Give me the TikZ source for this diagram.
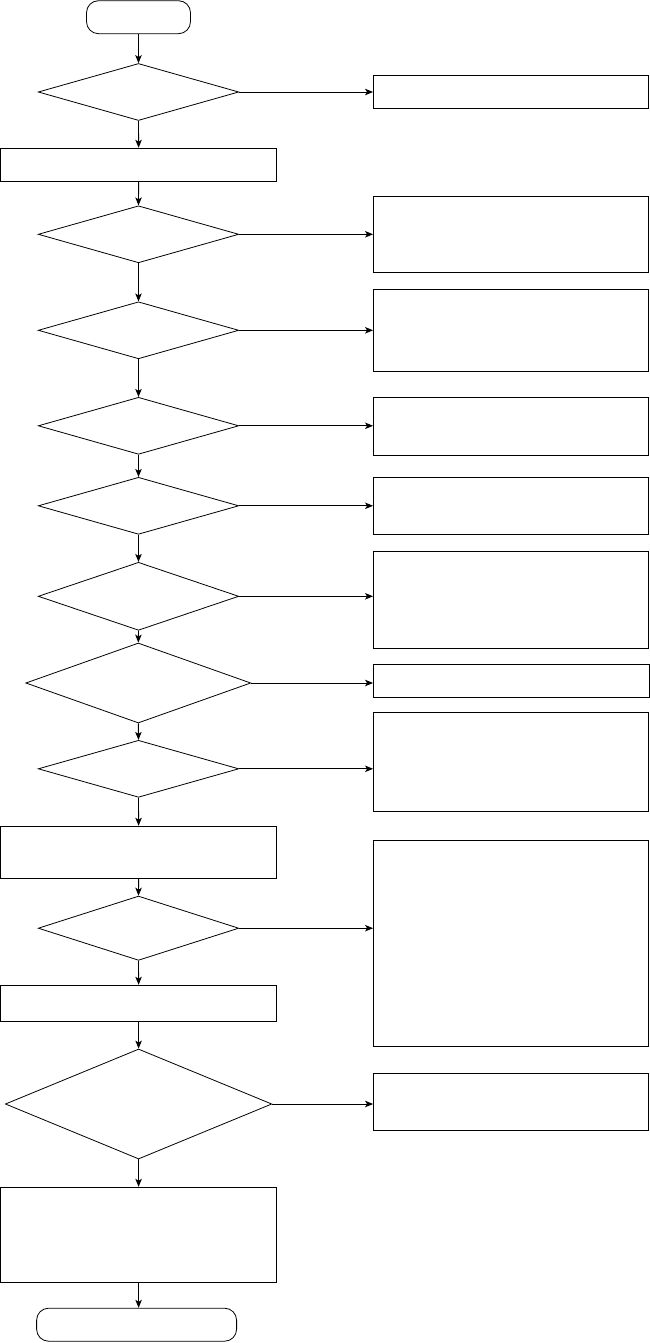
\documentclass[tikz,border=0pt]{standalone}
\usetikzlibrary{shapes.geometric,arrows.meta}
\tikzset{
  box/.style={draw, line width=1.1pt, rectangle, inner sep=0pt},
  dec/.style={draw, line width=0.8pt, diamond, inner sep=0pt, minimum width=200.5pt, minimum height=57pt},
  term/.style={draw, line width=0.8pt, rectangle, rounded corners=12pt, inner sep=0pt, minimum height=33pt},
  conn/.style={line width=0.9pt, -{Stealth[length=8pt,width=6.5pt,inset=2pt]}}
}
\begin{document}
\begin{tikzpicture}[x=1pt,y=-1pt]
\useasboundingbox (0,0) rectangle (650,1343);
% main column
\node[term, minimum width=104pt] (start) at (138.5,17.2) {};
\node[dec] (d1) at (138.5,92) {};
\node[box, minimum width=276.5pt, minimum height=33pt] (p1) at (138.6,164.8) {};
\node[dec] (d2) at (138.5,234.3) {};
\node[dec] (d3) at (138.5,330.3) {};
\node[dec] (d4) at (138.5,425.8) {};
\node[dec] (d5) at (138.5,505.8) {};
\node[dec, minimum height=68pt] (d6) at (138.5,596.3) {};
\node[dec, minimum width=225pt, minimum height=80pt] (d7) at (138.3,683) {};
\node[dec] (d8) at (138.5,768.8) {};
\node[box, minimum width=276.5pt, minimum height=52pt] (p2) at (138.6,852.3) {};
\node[dec, minimum height=64.3pt] (d9) at (138.5,928.2) {};
\node[box, minimum width=276.5pt, minimum height=36pt] (p3) at (138.6,1003.3) {};
\node[dec, minimum width=266.5pt, minimum height=110pt] (d10) at (138.6,1104) {};
\node[box, minimum width=276.5pt, minimum height=95pt] (p4) at (138.6,1234.8) {};
\node[term, minimum width=200pt] (end) at (136.6,1324.7) {};
% right column
\node[box, minimum width=275.2pt, minimum height=32.6pt] (r1) at (511.2,92) {};
\node[box, minimum width=275.2pt, minimum height=75.6pt] (r2) at (511.2,234.5) {};
\node[box, minimum width=275.2pt, minimum height=82pt] (r3) at (511.2,330.3) {};
\node[box, minimum width=275.2pt, minimum height=58pt] (r4) at (511.2,426.3) {};
\node[box, minimum width=275.2pt, minimum height=57pt] (r5) at (511.2,505.8) {};
\node[box, minimum width=275.2pt, minimum height=97pt] (r6) at (511.2,599.8) {};
\node[box, minimum width=276.2pt, minimum height=33pt] (r7) at (511.7,680.8) {};
\node[box, minimum width=275.2pt, minimum height=99pt] (r8) at (511.2,761.8) {};
\node[box, minimum width=275.2pt, minimum height=206pt] (r9) at (511.2,943.3) {};
\node[box, minimum width=275.2pt, minimum height=57pt] (r10) at (511.2,1101.8) {};
% vertical connectors
\foreach \a/\b in {start/d1,d1/p1,p1/d2,d2/d3,d3/d4,d4/d5,d5/d6,d6/d7,d7/d8,d8/p2,p2/d9,d9/p3,p3/d10,d10/p4}
  \draw[conn] (\a.south) -- (\b.north);
\draw[conn] (p4.south) -- (p4.south |- end.north);
% horizontal connectors
\foreach \a/\b in {d1/r1,d2/r2,d3/r3,d4/r4,d5/r5,d6/r6,d7/r7,d8/r8,d9/r9,d10/r10}
  \draw[conn] (\a.east) -- (\a.east -| \b.west);
\end{tikzpicture}
\end{document}
